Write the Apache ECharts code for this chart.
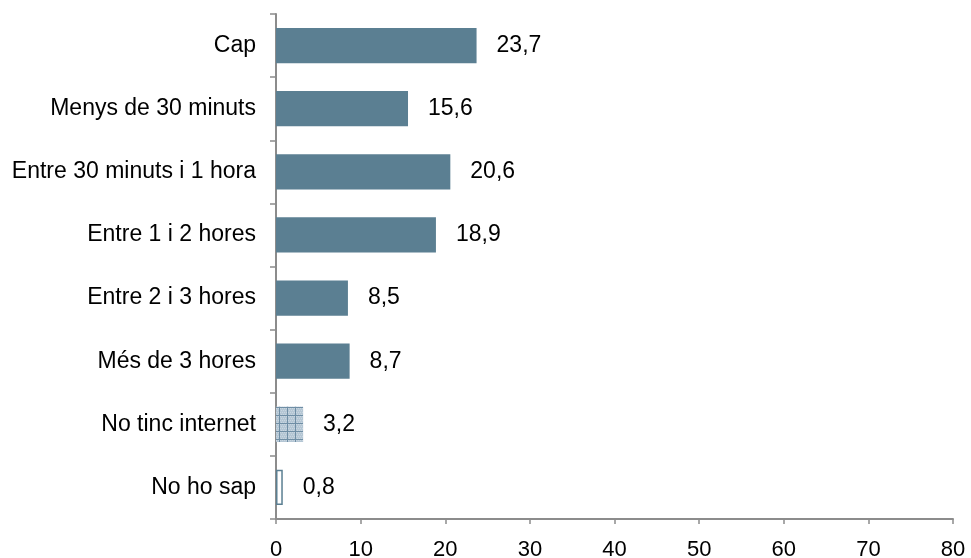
<!DOCTYPE html>
<html><head><meta charset="utf-8">
<script src="https://cdn.jsdelivr.net/npm/echarts@6/dist/echarts.min.js"></script>
<style>html,body{margin:0;padding:0;background:#fff}#c{width:971px;height:558px}</style>
</head><body><div id="c"></div>
<script>
const categories = ['Cap','Menys de 30 minuts','Entre 30 minuts i 1 hora','Entre 1 i 2 hores','Entre 2 i 3 hores','Més de 3 hores','No tinc internet','No ho sap'];
const values = [23.7,15.6,20.6,18.9,8.5,8.7,3.2,0.8];
const xTicks = [0,10,20,30,40,50,60,70,80];

const pc = document.createElement('canvas');
pc.width = 8; pc.height = 8;
const g = pc.getContext('2d');
g.fillStyle = '#b4c6d4'; g.fillRect(0,0,8,8);
g.fillStyle = '#c9d6e0';
for (let i=0;i<8;i+=2) for (let j=0;j<8;j+=2) g.fillRect(i+((j/2)%2),j,1,1);
g.fillStyle = '#6f8ea5'; g.fillRect(7,0,1,8); g.fillRect(0,7,8,1);

const barColor = '#5b7f92';
const data = values.map((v,i)=>{
  const d = {value:v};
  if (i===6) d.itemStyle = {color:{image:pc, repeat:'repeat'}};
  if (i===7) d.itemStyle = {color:'#ffffff', borderColor:barColor, borderWidth:1.5};
  return d;
});

const font = 'Liberation Sans, Arial';
const chart = echarts.init(document.getElementById('c'));
chart.setOption({
  animation:false,
  grid:{left:276,right:18,top:14,bottom:39,containLabel:false,outerBoundsMode:'none'},
  xAxis:{type:'value',min:xTicks[0],max:xTicks[xTicks.length-1],interval:10,
    axisLine:{show:true,lineStyle:{color:'#8c8c8c',width:2}},
    axisTick:{show:true,length:5,lineStyle:{color:'#8c8c8c',width:1.5}},
    splitLine:{show:false},
    axisLabel:{color:'#000',fontFamily:font,fontSize:22,margin:20,
      formatter:v=>String(v)}},
  yAxis:{type:'category',data:categories,inverse:true,
    axisLine:{show:true,lineStyle:{color:'#8c8c8c',width:2}},
    axisTick:{show:true,length:6,lineStyle:{color:'#8c8c8c',width:1.5}},
    axisLabel:{color:'#000',fontFamily:font,fontSize:23,margin:20}},
  series:[{type:'bar',data:data,barCategoryGap:'44%',
    itemStyle:{color:barColor},
    label:{show:true,position:'right',distance:20,color:'#000',fontFamily:font,fontSize:23,
      formatter:p=>p.value.toFixed(1).replace('.',',')}}]
});
</script></body></html>
